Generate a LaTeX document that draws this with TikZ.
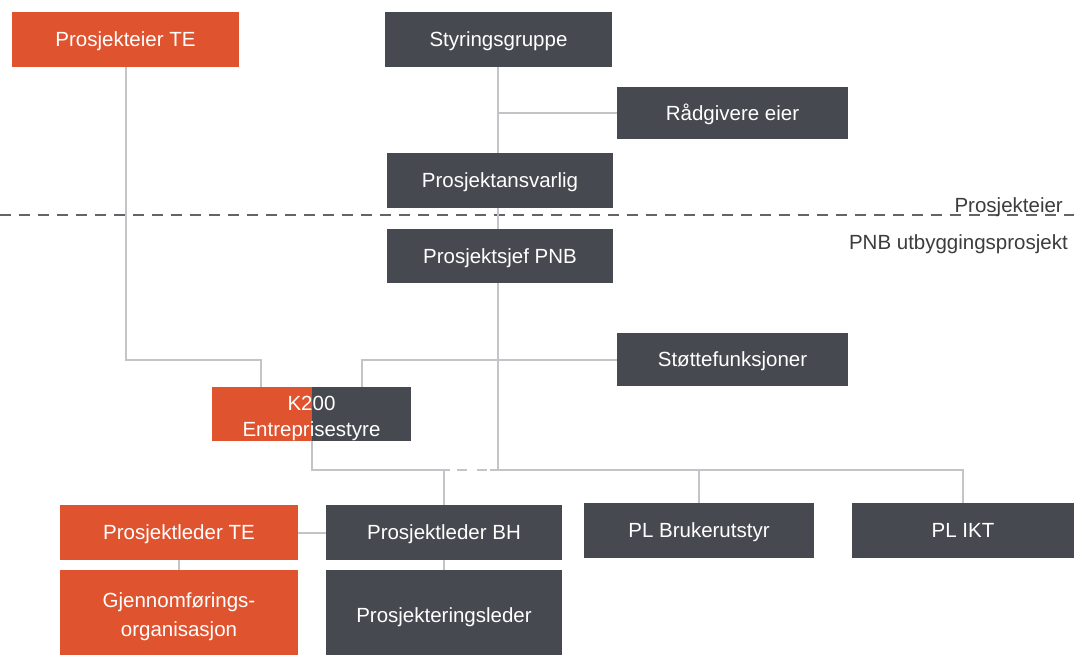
\documentclass[tikz,border=0pt]{standalone}
\usepackage{fontspec}
\setmainfont{Liberation Sans}
\usetikzlibrary{calc}
\definecolor{teorange}{HTML}{E0532F}
\definecolor{pnbdark}{HTML}{46494F}
\definecolor{linkgray}{HTML}{C3C4C8}
\definecolor{labelgray}{HTML}{3C3C3C}
\tikzset{
  orgbox/.style={rectangle, inner sep=0pt, text=white, align=center,
    font=\fontsize{20.5}{26}\selectfont},
  oneline/.style={text height=14.8pt, text depth=0pt},
  tebox/.style={orgbox, fill=teorange},
  pnbbox/.style={orgbox, fill=pnbdark},
  link/.style={draw=linkgray, line width=2pt},
  divider/.style={draw=pnbdark!85, line width=2.5pt, dash pattern=on 11pt off 8pt},
  zonelabel/.style={text=labelgray, inner sep=0pt, font=\fontsize{20.5}{25}\selectfont}
}
\begin{document}
\begin{tikzpicture}[x=1pt, y=-1pt]
\clip (0,0) rectangle (1074,654);
\fill[white] (0,0) rectangle (1074,654);

% owner side
\node[tebox, oneline, minimum width=227pt, minimum height=55pt] (pte) at (125.5,39.5) {Prosjekteier TE};
\node[pnbbox, oneline, minimum width=227pt, minimum height=55pt] (styr) at (498.5,39.5) {Styringsgruppe};
\node[pnbbox, oneline, minimum width=231pt, minimum height=52pt] (radg) at (732.5,113) {Rådgivere eier};
\node[pnbbox, oneline, minimum width=226pt, minimum height=55pt] (pans) at (500,180.5) {Prosjektansvarlig};

% zone divider
\coordinate (sepL) at (0,215);
\coordinate (sepR) at (1074,215);
\draw[divider] (sepL) -- (sepR);
\node[zonelabel, anchor=base east] (zoneTop) at (1063,212) {Prosjekteier};
\node[zonelabel, anchor=base east] (zoneBot) at (1068,249) {PNB utbyggingsprosjekt};

% project side
\node[pnbbox, oneline, minimum width=226pt, minimum height=54pt] (psjef) at (500,256) {Prosjektsjef PNB};
\node[pnbbox, oneline, minimum width=231pt, minimum height=53pt] (stot) at (732.5,359.5) {Støttefunksjoner};
\node[pnbbox, text height=44pt, text depth=0pt, minimum width=199pt, minimum height=54pt,
  path picture={\fill[teorange] (path picture bounding box.north west) rectangle (path picture bounding box.south);}]
  (k200) at (311.5,414) {K200\\Entreprisestyre};

\node[tebox, oneline, minimum width=238pt, minimum height=55pt] (plte) at (179,532.5) {Prosjektleder TE};
\node[tebox, minimum width=238pt, minimum height=94pt, font=\fontsize{20.5}{29}\selectfont] (gjen) at (179,617) {Gjennomførings-\\organisasjon};
\node[pnbbox, oneline, minimum width=236pt, minimum height=90pt] (prol) at (444,615) {Prosjekteringsleder};
\node[pnbbox, oneline, minimum width=236pt, minimum height=55pt] (plbh) at (444,532.5) {Prosjektleder BH};
\node[pnbbox, oneline, minimum width=230pt, minimum height=55pt] (plbr) at (699,530.5) {PL Brukerutstyr};
\node[pnbbox, oneline, minimum width=222pt, minimum height=55pt] (plikt) at (963,530.5) {PL IKT};

% connectors
\coordinate (bus) at (0,470);
\draw[link] (pte.south) -- ++(0,293) -| ([xshift=-50.5pt]k200.north);
\draw[link] ([xshift=-0.5pt]styr.south) -- ([xshift=-0.5pt]styr.south |- pans.north);
\draw[link] ([xshift=-0.5pt]styr.south |- radg.west) -- (radg.west);
\draw[link] ([xshift=-0.5pt]styr.south |- pans.south) -- ([xshift=-0.5pt]styr.south |- psjef.north);
\draw[link] ([xshift=-0.5pt]styr.south |- psjef.south) -- ([xshift=-0.5pt]styr.south |- bus);
\draw[link] (stot.west) -| ([xshift=50pt]k200.north);
\draw[link] (k200.south) |- ([xshift=6pt]plbh.north |- bus) coordinate (dashA);
\draw[link, dash pattern=on 0pt off 7pt on 10pt off 10pt on 10pt off 3pt] (dashA) -- ++(40,0) coordinate (dashB);
\draw[link] (dashB) -| (plikt.north);
\draw[link] (plbr.north) -- (plbr.north |- bus);
\draw[link] (plbh.north) -- (plbh.north |- bus);
\draw[link] (plbh.south) -- (prol.north);
\draw[link] (plte.east) -- (plbh.west);
\draw[link] (plte.south) -- (gjen.north);
\end{tikzpicture}
\end{document}
